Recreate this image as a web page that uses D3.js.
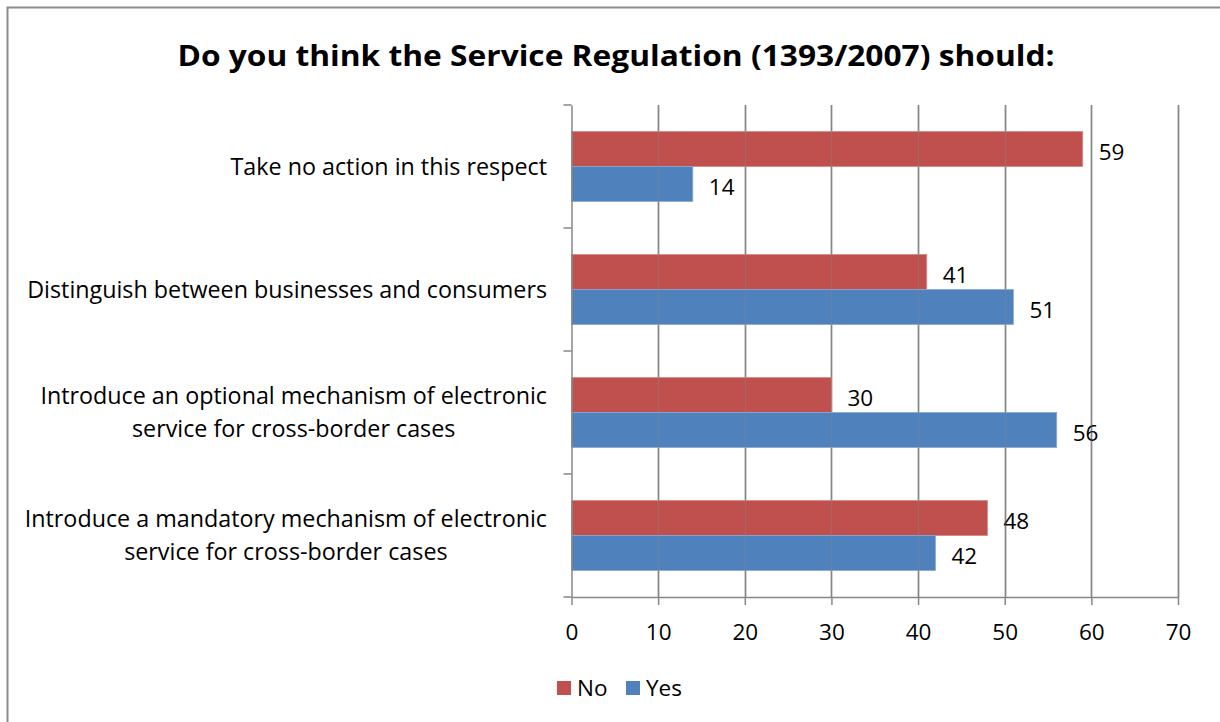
<!DOCTYPE html>
<html>
<head>
<meta charset="utf-8">
<script src="https://cdn.jsdelivr.net/npm/d3@7"></script>
<style>
  body { margin: 0; background: #fff; }
  text { font-family: "Open Sans", "Liberation Sans", sans-serif; fill: #000; }
</style>
</head>
<body>
<div id="chart"></div>
<script>
const categories = [
	["Take no action in this respect"],
	["Distinguish between businesses and consumers"],
	["Introduce an optional mechanism of electronic", "service for cross-border cases"],
	["Introduce a mandatory mechanism of electronic", "service for cross-border cases"]
];
const noValues = [59, 41, 30, 48];
const yesValues = [14, 51, 56, 42];
const seriesNames = ["No", "Yes"];
const xTicks = [0, 10, 20, 30, 40, 50, 60, 70];

const width = 1220, height = 722;
const colors = { No: "#c0504d", Yes: "#4f81bd" };
const plotLeft = 571.5, plotRight = 1178, plotTop = 105, plotBottom = 597;

const svg = d3.select('#chart')
	.append('svg')
		.attr('width', width)
		.attr('height', height);

// outer frame (right/bottom edges fall outside the picture)
svg.append('rect')
	.attr('x', 7.5).attr('y', 7.5)
	.attr('width', 1240).attr('height', 740)
	.attr('fill', 'none')
	.attr('stroke', '#8c8c8c')
	.attr('stroke-width', 2);

svg.append('text')
	.attr('x', 616)
	.attr('y', 66)
	.attr('text-anchor', 'middle')
	.style('font-size', '28px')
	.style('font-weight', 'bold')
	.attr('textLength', 877)
	.attr('lengthAdjust', 'spacingAndGlyphs')
	.text('Do you think the Service Regulation (1393/2007) should:');

const x = d3.scaleLinear().domain([0, 70]).range([plotLeft, plotRight]);
const y = d3.scaleBand().domain(d3.range(categories.length)).range([plotTop, plotBottom]);
const inner = d3.scaleBand().domain(seriesNames).range([0, y.bandwidth()]).paddingOuter(0.76);

// gridlines behind bars
svg.append('g')
	.selectAll('line')
	.data(xTicks.slice(1))
	.enter().append('line')
		.attr('x1', d => Math.round(x(d)) + 0.5)
		.attr('x2', d => Math.round(x(d)) + 0.5)
		.attr('y1', plotTop)
		.attr('y2', plotBottom)
		.attr('stroke', '#868686')
		.attr('stroke-width', 1.6);

const rows = categories.map((c, i) => ({ i, No: noValues[i], Yes: yesValues[i] }));

const groups = svg.append('g')
	.selectAll('g')
	.data(rows)
	.enter().append('g')
		.attr('transform', d => `translate(0,${y(d.i)})`);

seriesNames.forEach(s => {
	groups.append('rect')
		.attr('x', x(0))
		.attr('y', inner(s))
		.attr('width', d => x(d[s]) - x(0))
		.attr('height', inner.bandwidth())
		.attr('fill', colors[s])
		.attr('stroke', s === 'No' ? '#d38886' : '#89a8d3')
		.attr('stroke-width', 0.8);
	groups.append('text')
		.attr('x', d => x(d[s]) + 16)
		.attr('y', inner(s) + inner.bandwidth() / 2 + 3)
		.attr('dy', '0.36em')
		.style('font-size', '22.5px')
		.text(d => d[s]);
});

// faint gridline show-through on top of bars, as in the original
svg.append('g')
	.selectAll('line')
	.data(xTicks.slice(1))
	.enter().append('line')
		.attr('x1', d => Math.round(x(d)) + 0.5)
		.attr('x2', d => Math.round(x(d)) + 0.5)
		.attr('y1', plotTop)
		.attr('y2', plotBottom)
		.attr('stroke', '#878787')
		.attr('stroke-opacity', 0.35)
		.attr('stroke-width', 1.5);

// x axis
const xAxis = svg.append('g')
	.attr('transform', `translate(0,${plotBottom})`)
	.call(d3.axisBottom(x).tickValues(xTicks).tickSize(8).tickPadding(19).tickSizeOuter(0));
xAxis.select('.domain').attr('stroke', '#878787').attr('stroke-width', 1.5);
xAxis.selectAll('.tick line').attr('stroke', '#878787').attr('stroke-width', 1.5);
xAxis.selectAll('.tick text').style('font-size', '22.5px').attr('fill', '#000');

// y axis
const yAxis = svg.append('g')
	.attr('transform', `translate(${plotLeft},0)`)
	.call(d3.axisLeft(y).tickValues([]).tickSizeOuter(0));
yAxis.select('.domain').attr('stroke', '#878787').attr('stroke-width', 1.5);
yAxis.selectAll('.cat-tick')
	.data(d3.range(categories.length + 1))
	.enter().append('line')
		.attr('x1', -8).attr('x2', 0)
		.attr('y1', d => plotTop + d * y.step())
		.attr('y2', d => plotTop + d * y.step())
		.attr('stroke', '#878787')
		.attr('stroke-width', 1.5);

// category labels: block right-aligned, lines centred
const lineH = 33;
categories.forEach((lines, i) => {
	const cy = y(i) + y.bandwidth() / 2;
	const g = svg.append('g');
	const t = g.append('text')
		.attr('text-anchor', 'middle')
		.style('font-size', '23.3px');
	lines.forEach((ln, j) => {
		t.append('tspan')
			.attr('x', 0)
			.attr('y', cy + (j - (lines.length - 1) / 2) * lineH)
			.attr('dy', '0.36em')
			.text(ln);
	});
	const w = t.node().getBBox().width;
	g.attr('transform', `translate(${547 - w / 2},0)`);
});

// legend
const legend = svg.append('g').attr('transform', 'translate(557,688)');
const legendX = [0, 69];
seriesNames.forEach((s, i) => {
	legend.append('rect')
		.attr('x', legendX[i]).attr('y', -7)
		.attr('width', 14).attr('height', 14)
		.attr('fill', colors[s]);
	legend.append('text')
		.attr('x', legendX[i] + 20).attr('y', 0)
		.attr('dy', '0.36em')
		.style('font-size', '22.5px')
		.text(s);
});
</script>
</body>
</html>
